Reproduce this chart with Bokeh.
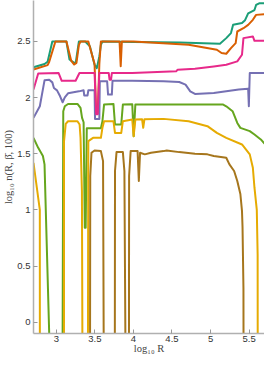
from bokeh.plotting import figure
from bokeh.models import Range1d, FixedTicker
from bokeh.embed import file_html
from bokeh.resources import INLINE

NEG = -1.0  # log10 n = -inf (n = 0): drawn below the visible range

X_TICKS = [3, 3.5, 4, 4.5, 5, 5.5]
X_LABELS = ["3", "3.5", "4", "4.5", "5", "5.5"]
Y_TICKS = [0, 0.5, 1, 1.5, 2, 2.5]
Y_LABELS = ["0", "0.5", "1", "1.5", "2", "2.5"]

TEAL_X = [2.704, 2.847, 2.887, 2.948, 3.131, 3.171, 3.232, 3.253, 3.293, 3.375, 3.436, 3.496, 3.525, 3.558, 3.578, 3.598, 4.0, 4.6, 5.122, 5.204, 5.265, 5.293, 5.408, 5.448, 5.488, 5.570, 5.591, 5.631, 5.70]
TEAL_Y = [2.27, 2.30, 2.32, 2.50, 2.50, 2.34, 2.31, 2.315, 2.50, 2.50, 2.456, 2.293, 2.263, 2.367, 2.47, 2.50, 2.495, 2.49, 2.48, 2.53, 2.575, 2.65, 2.665, 2.69, 2.75, 2.78, 2.825, 2.84, 2.84]

ORANGE_X = [2.704, 2.887, 2.908, 2.988, 3.131, 3.192, 3.232, 3.261, 3.293, 3.314, 3.415, 3.496, 3.517, 3.537, 3.558, 3.578, 3.82, 3.835, 3.85, 4.0, 4.716, 5.082, 5.143, 5.204, 5.265, 5.326, 5.347, 5.427, 5.488, 5.549, 5.591, 5.70]
ORANGE_Y = [2.25, 2.29, 2.32, 2.50, 2.50, 2.33, 2.295, 2.31, 2.47, 2.50, 2.50, 2.30, 1.86, 1.86, 2.30, 2.50, 2.50, 2.28, 2.50, 2.50, 2.471, 2.427, 2.397, 2.391, 2.441, 2.485, 2.589, 2.618, 2.648, 2.693, 2.737, 2.743]

PURPLE_X = [2.704, 2.786, 2.847, 2.908, 2.948, 2.969, 3.009, 3.049, 3.082, 3.110, 3.152, 3.293, 3.354, 3.362, 3.405, 3.415, 3.496, 3.502, 3.558, 3.564, 3.659, 3.671, 3.720, 3.729, 3.985, 4.391, 4.594, 4.676, 4.737, 4.798, 5.042, 5.366, 5.488, 5.497, 5.509, 5.70]
PURPLE_Y = [1.82, 1.923, 2.154, 2.16, 2.136, 2.086, 2.065, 2.012, 1.959, 2.003, 2.039, 2.056, 2.065, 2.02, 2.02, 2.065, 2.065, 1.811, 1.811, 2.145, 2.145, 2.027, 2.027, 2.151, 2.151, 2.145, 2.139, 2.116, 2.056, 2.033, 2.041, 2.072, 2.080, 1.923, 2.219, 2.219]

PINK_X = [2.704, 2.765, 3.03, 3.07, 3.25, 3.30, 3.496, 3.517, 3.537, 3.558, 3.680, 3.690, 3.710, 3.720, 3.985, 4.554, 4.574, 4.798, 5.042, 5.204, 5.347, 5.408, 5.427, 5.549, 5.570, 5.70]
PINK_Y = [2.072, 2.215, 2.219, 2.15, 2.15, 2.219, 2.219, 1.852, 1.852, 2.219, 2.219, 2.16, 2.16, 2.219, 2.219, 2.234, 2.249, 2.258, 2.278, 2.293, 2.323, 2.382, 2.530, 2.545, 2.506, 2.506]

GREEN_X = [2.704, 2.765, 2.826, 2.847, 2.944, 3.078, 3.090, 3.110, 3.152, 3.274, 3.314, 3.334, 3.354, 3.369, 3.381, 3.395, 3.578, 3.598, 3.619, 3.741, 3.761, 3.842, 3.863, 3.985, 4.003, 4.025, 5.164, 5.204, 5.286, 5.347, 5.387, 5.509, 5.570, 5.652, 5.70]
GREEN_Y = [1.642, 1.553, 1.48, 1.406, NEG, NEG, 1.879, 1.923, 1.944, 1.944, 1.908, 1.82, 1.781, 0.841, 0.841, 1.728, 1.728, 1.79, 1.938, 1.944, 1.761, 1.761, 1.938, 1.941, 1.657, 1.938, 1.938, 1.923, 1.879, 1.775, 1.731, 1.702, 1.672, 1.628, 1.59]

YELLOW_X = [2.704, 2.786, 2.787, 3.099, 3.100, 3.122, 3.152, 3.274, 3.302, 3.314, 3.332, 3.342, 3.408, 3.415, 3.476, 3.578, 3.598, 3.619, 3.741, 3.761, 3.842, 3.863, 3.985, 4.003, 4.025, 4.112, 4.127, 4.143, 4.391, 4.716, 4.960, 5.082, 5.204, 5.408, 5.509, 5.549, 5.570, 5.600, 5.611, 5.613]
YELLOW_Y = [1.42, 1.0, NEG, NEG, 1.613, 1.766, 1.79, 1.79, 1.761, 1.642, 1.169, NEG, NEG, 1.613, 1.642, 1.642, 1.731, 1.79, 1.79, 1.686, 1.686, 1.79, 1.805, 1.657, 1.805, 1.808, 1.731, 1.808, 1.811, 1.79, 1.746, 1.686, 1.642, 1.583, 1.495, 1.376, 1.198, 1.0, 0.6, NEG]

BROWN_X = [3.436, 3.440, 3.456, 3.496, 3.578, 3.606, 3.619, 3.758, 3.761, 3.781, 3.863, 3.883, 3.903, 3.941, 3.944, 3.964, 4.054, 4.070, 4.086, 4.147, 4.228, 4.391, 4.432, 4.594, 4.798, 4.960, 5.042, 5.204, 5.245, 5.306, 5.347, 5.387, 5.408, 5.415, 5.427, 5.430]
BROWN_Y = [NEG, 1.302, 1.509, 1.53, 1.524, 1.435, NEG, NEG, 1.347, 1.515, 1.515, 1.347, NEG, NEG, 1.302, 1.524, 1.524, 1.258, 1.509, 1.495, 1.509, 1.524, 1.53, 1.515, 1.50, 1.495, 1.48, 1.465, 1.406, 1.347, 1.258, 1.142, 0.992, 0.85, 0.3, NEG]

SERIES = [
    (TEAL_X, TEAL_Y, "#1b9e77"),
    (ORANGE_X, ORANGE_Y, "#d95f02"),
    (PURPLE_X, PURPLE_Y, "#7570b3"),
    (PINK_X, PINK_Y, "#e7298a"),
    (GREEN_X, GREEN_Y, "#66a61e"),
    (YELLOW_X, YELLOW_Y, "#e6ab02"),
    (BROWN_X, BROWN_Y, "#a6761d"),
]

p = figure(width=264, height=356, output_backend="svg", toolbar_location=None,
           x_range=Range1d(2.704, 5.70), y_range=Range1d(-0.1, 2.865),
           min_border_left=0, min_border_right=0, min_border_top=0,
           min_border_bottom=0)

for xs, ys, c in SERIES:
    p.line(xs, ys, line_color=c, line_width=2, line_join="round")

p.grid.visible = False
p.outline_line_color = None
p.background_fill_color = "white"
p.border_fill_color = "white"

for ax, ticks, labels in ((p.xaxis[0], X_TICKS, X_LABELS), (p.yaxis[0], Y_TICKS, Y_LABELS)):
    ax.ticker = FixedTicker(ticks=ticks)
    ax.major_label_overrides = {t: l for t, l in zip(ticks, labels)}
    ax.minor_tick_line_color = None
    ax.major_tick_in = 4
    ax.major_tick_out = 0
    ax.major_tick_line_color = "#999999"
    ax.axis_line_color = "#b0b0b0"
    ax.axis_line_width = 1.5
    ax.major_label_text_font = "Liberation Sans"
    ax.major_label_text_font_size = "9.5px"
    ax.major_label_text_color = "#333333"
    ax.major_label_text_line_height = 1.0
    ax.axis_label_text_font = "Liberation Serif"
    ax.axis_label_text_font_style = "normal"
    ax.axis_label_text_font_size = "10.5px"
    ax.axis_label_text_color = "#444444"
    ax.axis_label_text_line_height = 1.0

p.xaxis.major_label_standoff = 2
p.xaxis.axis_label_standoff = -2
p.yaxis.major_label_standoff = 3
p.yaxis.axis_label_standoff = 0

p.xaxis.axis_label = "log\u2081\u2080 R"
p.yaxis.axis_label = "log\u2081\u2080 n(R, \u03b2\u0304, 100)"

open("out.html", "w").write(file_html(p, INLINE))
